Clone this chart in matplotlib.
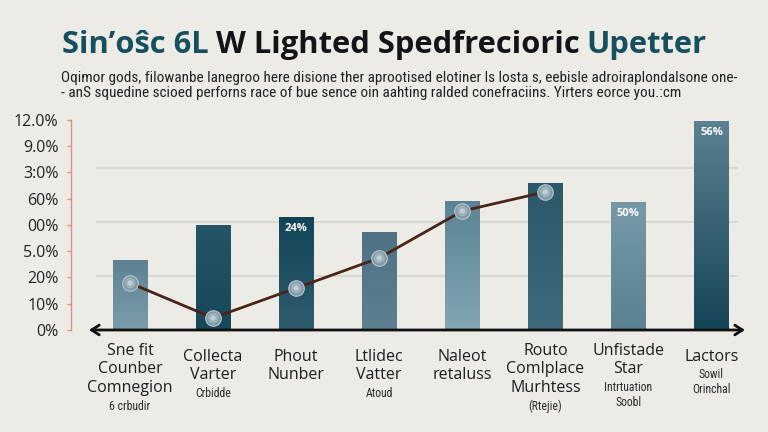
import numpy as np
import matplotlib
matplotlib.use("Agg")
import matplotlib.pyplot as plt
from matplotlib import font_manager as fm
from matplotlib.colors import LinearSegmentedColormap

W, H = 768, 432
BG = "#ecebe6"
TEAL = "#164f5e"

# ---- data (axis units, 0 at the arrow line) ----
title_pieces = [("Sin\u2019o\u015dc 6L", TEAL), ("W Lighted Spedfrecioric", "#141414"), ("Upetter", TEAL)]
subtitle_1 = "Oqimor gods, filowanbe lanegroo here disione ther aprootised elotiner ls losta s, eebisle adroiraplondalsone one-"
subtitle_2 = "- anS squedine scioed perforns race of bue sence oin aahting ralded conefraciins. Yirters eorce you.:cm"

cat_main = [["Sne fit", "Counber", "Comnegion"], ["Collecta", "Varter"], ["Phout", "Nunber"],
            ["Ltlidec", "Vatter"], ["Naleot", "retaluss"], ["Routo", "Comlplace", "Murhtess"],
            ["Unfistade", "Star"], ["Lactors"]]
cat_note = [["6 crbudir"], ["Crbidde"], [], ["Atoud"], [], ["(Rtejie)"],
            ["Intrtuation", "Soobl"], ["Sowil", "Orinchal"]]

bar_values = [3.89, 5.83, 6.28, 5.44, 7.17, 8.17, 7.11, 11.61]
bar_labels = ["", "", "24%", "", "", "", "50%", "56%"]
bar_top_colors = ["#5c8191", "#245668", "#124459", "#4e7284", "#5b8394", "#2b5869", "#7599a8", "#5c8192"]
bar_bottom_colors = ["#7b9dab", "#174759", "#2f5c6d", "#5d8191", "#83a6b4", "#3f6b7c", "#5b8292", "#144457"]

line_values = [2.61, 0.67, 2.33, 4.00, 6.61, 7.67]

ytick_labels = ["0%", "10%", "20%", "5.0%", "00%", "60%", "3:0%", "9.0%", "12.0%"]
grid_values = [3, 6, 9]


def first_font(names):
    for name in names:
        try:
            fm.findfont(fm.FontProperties(family=name), fallback_to_default=False)
            return name
        except ValueError:
            continue
    return "DejaVu Sans"


SANS = first_font(["Open Sans", "Noto Sans", "DejaVu Sans"])
NARROW = first_font(["Liberation Sans Narrow", "Roboto Condensed", "Roboto", "Open Sans"])

fig = plt.figure(figsize=(W / 100, H / 100), dpi=100, facecolor=BG)
renderer = fig.canvas.get_renderer()

# axes: left spine at x=71px, arrow line at y=330px, 18 px per unit, 83.07 px per bar
ax = fig.add_axes([71 / W, 1 - 330 / H, 674 / W, 220 / H])
ax.set_facecolor(BG)
xlim = (-59 / 83.07, 615 / 83.07)
ylim = (0, 220 / 18)

x = np.arange(len(bar_values))

# gridlines
for g in grid_values:
    ax.axhline(g, xmin=26 / 674, xmax=666 / 674, color="#d6d5cf", lw=1.3, zorder=1)

# gradient bars
bars = ax.bar(x, bar_values, width=0.41, color="none", edgecolor="none", zorder=2)
grad = np.linspace(0, 1, 256).reshape(-1, 1)
for i, p in enumerate(bars):
    cmap = LinearSegmentedColormap.from_list("bar%d" % i, [bar_bottom_colors[i], bar_top_colors[i]])
    x0 = p.get_x()
    im = ax.imshow(grad, extent=(x0, x0 + p.get_width(), 0, p.get_height()), origin="lower",
                   cmap=cmap, aspect="auto", zorder=2, interpolation="bilinear")
    im.set_clip_path(p)
    if bar_labels[i]:
        ax.annotate(bar_labels[i], (p.get_x() + p.get_width() / 2, p.get_height()),
                    xytext=(0, -8), textcoords="offset points", ha="center", va="center",
                    color="white", fontsize=8, fontweight="bold", family=SANS, zorder=5)

# trend line with glossy markers
lx = x[:len(line_values)]
ax.plot(lx, line_values, color="#4a2419", lw=2, zorder=4, solid_capstyle="round")
ax.scatter(lx, line_values, s=125, color="#8099a6", edgecolor="#b7c7ce", linewidth=0.8, zorder=5)
ax.scatter(lx, line_values, s=60, color="#9bb1bb", edgecolor="none", zorder=6)
ax.scatter(lx, line_values, s=14, color="#c2d0d6", edgecolor="none", zorder=7)

ax.set_xlim(*xlim)
ax.set_ylim(*ylim)

# spines / ticks
for side in ["top", "right", "bottom"]:
    ax.spines[side].set_visible(False)
ax.spines["left"].set_color("#e0917e")
ax.spines["left"].set_linewidth(1)
ax.spines["left"].set_bounds(0, 11.67)
ax.set_xticks([])
ax.set_yticks(np.linspace(0, 11.67, len(ytick_labels)))
ax.set_yticklabels(ytick_labels, family=SANS, fontsize=11.5, color="#222222")
ax.tick_params(axis="y", colors="#e0917e", length=3, width=1, pad=6, labelcolor="#222222")

# double-headed x arrow
ax.annotate("", xy=(1.0, 0), xytext=(18 / 674, 0), xycoords="axes fraction",
            arrowprops=dict(arrowstyle="<->,head_length=0.55,head_width=0.35", color="#111111",
                            lw=2, shrinkA=0, shrinkB=0), annotation_clip=False, zorder=6)

# category labels, line by line below the arrow
px2pt = 72 / 100
trans = ax.get_xaxis_transform()
for i, (main, note) in enumerate(zip(cat_main, cat_note)):
    y = 21 if len(main) + len(note) >= 4 else 27
    for j, s in enumerate(main):
        if j:
            y += 18.5
        ax.annotate(s, (i, 0), xycoords=trans, xytext=(0, -y * px2pt), textcoords="offset points",
                    ha="center", va="center", fontsize=11.5, family=SANS, color="#1e1e1e",
                    annotation_clip=False)
    for j, s in enumerate(note):
        y += 18 if j == 0 else 15
        ax.annotate(s, (i, 0), xycoords=trans, xytext=(0, -y * px2pt), textcoords="offset points",
                    ha="center", va="center", fontsize=8.5, family=NARROW, color="#2a2a2a",
                    annotation_clip=False)

# title in three coloured pieces, fitted to 62..706 px
size = 21
texts = [fig.text(0, 1 - 53 / H, s, color=c, fontsize=size, fontweight="bold", family=SANS,
                  va="baseline") for s, c in title_pieces]
widths = [t.get_window_extent(renderer).width for t in texts]
probe_a = fig.text(0, 0, "a a", fontsize=size, fontweight="bold", family=SANS)
probe_b = fig.text(0, 0, "aa", fontsize=size, fontweight="bold", family=SANS)
space = probe_a.get_window_extent(renderer).width - probe_b.get_window_extent(renderer).width
probe_a.remove()
probe_b.remove()
scale = 644 / (sum(widths) + space * (len(texts) - 1))
scale = min(max(scale, 0.8), 1.2)
xpos = 62
for t, w in zip(texts, widths):
    t.set_fontsize(size * scale)
    t.set_x(xpos / W)
    xpos += (w + space) * scale

# subtitle, fitted to 61..737 px
s1 = fig.text(61 / W, 1 - 78 / H, subtitle_1, fontsize=10, family=NARROW, color="#222222", va="center")
s2 = fig.text(61 / W, 1 - 93 / H, subtitle_2, fontsize=10, family=NARROW, color="#222222", va="center")
sc = 676 / s1.get_window_extent(renderer).width
sc = min(max(sc, 0.75), 1.3)
s1.set_fontsize(10 * sc)
s2.set_fontsize(10 * sc)

fig.savefig("out.png", dpi=100, facecolor=BG)
